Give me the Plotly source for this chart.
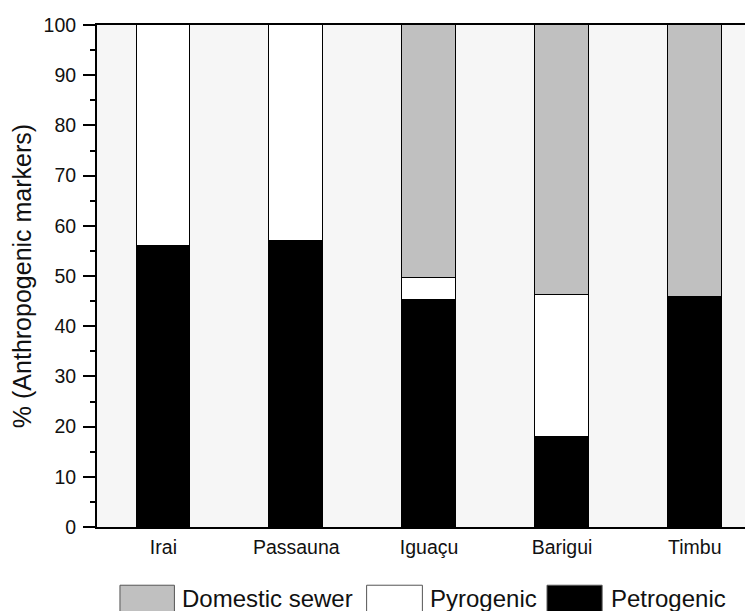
import plotly.graph_objects as go

categories = ["Irai", "Passauna", "Iguaçu", "Barigui", "Timbu"]
petrogenic = [56.0, 57.0, 45.3, 17.9, 45.8]
pyrogenic = [44.0, 43.0, 4.3, 28.3, 0.0]
domestic_sewer = [0.0, 0.0, 50.4, 53.8, 54.2]

series_names = ["Domestic sewer", "Pyrogenic", "Petrogenic"]
series_colors = ["#c0c0c0", "#ffffff", "#000000"]
y_ticks = [0, 10, 20, 30, 40, 50, 60, 70, 80, 90, 100]

FONT = "Arial, Liberation Sans, sans-serif"

fig = go.Figure()
stack = [("Petrogenic", petrogenic), ("Pyrogenic", pyrogenic), ("Domestic sewer", domestic_sewer)]
for name, vals in stack:
    col = series_colors[series_names.index(name)]
    fig.add_trace(go.Bar(
        x=categories, y=vals, name=name,
        marker=dict(color=col, line=dict(color="#000000", width=1)),
        width=0.405, showlegend=False,
    ))

# custom legend (large swatches like the reference)
legend_swatch_x = [(0.035, 0.118), (0.411, 0.496), (0.686, 0.770)]
legend_text_x = [0.126, 0.504, 0.780]
for i, name in enumerate(series_names):
    x0, x1 = legend_swatch_x[i]
    fig.add_shape(type="rect", xref="paper", yref="paper",
                  x0=x0, x1=x1, y0=-0.172, y1=-0.116,
                  fillcolor=series_colors[i],
                  line=dict(color="#555555", width=1))
    fig.add_annotation(xref="paper", yref="paper", x=legend_text_x[i], y=-0.142,
                       text=name, showarrow=False, xanchor="left", yanchor="middle",
                       font=dict(family=FONT, size=24, color="#111111"))

fig.update_layout(
    barmode="stack",
    width=745, height=603,
    margin=dict(l=87, r=0, t=17, b=84),
    paper_bgcolor="#ffffff",
    plot_bgcolor="#f6f6f6",
    font=dict(family=FONT, color="#111111"),
    showlegend=False,
    bargap=0,
)
fig.update_xaxes(
    type="category", range=[-0.5, 4.438],
    showline=True, linecolor="#000000", linewidth=2, mirror=True,
    ticks="", showgrid=False, zeroline=False,
    tickfont=dict(family=FONT, size=19.5, color="#111111"),
    ticklabelstandoff=2,
)
fig.update_yaxes(
    range=[0, 100], tickvals=y_ticks,
    showline=True, linecolor="#000000", linewidth=2,
    ticks="outside", ticklen=12, tickwidth=1.5, tickcolor="#000000",
    minor=dict(dtick=5, ticks="outside", ticklen=5, tickwidth=1.5, tickcolor="#000000"),
    showgrid=False, zeroline=False,
    tickfont=dict(family=FONT, size=19.5, color="#111111"),
    ticklabelstandoff=3,
    title=dict(text="% (Anthropogenic markers)", font=dict(family=FONT, size=25, color="#111111"), standoff=18),
)

fig.write_html("out.html")
